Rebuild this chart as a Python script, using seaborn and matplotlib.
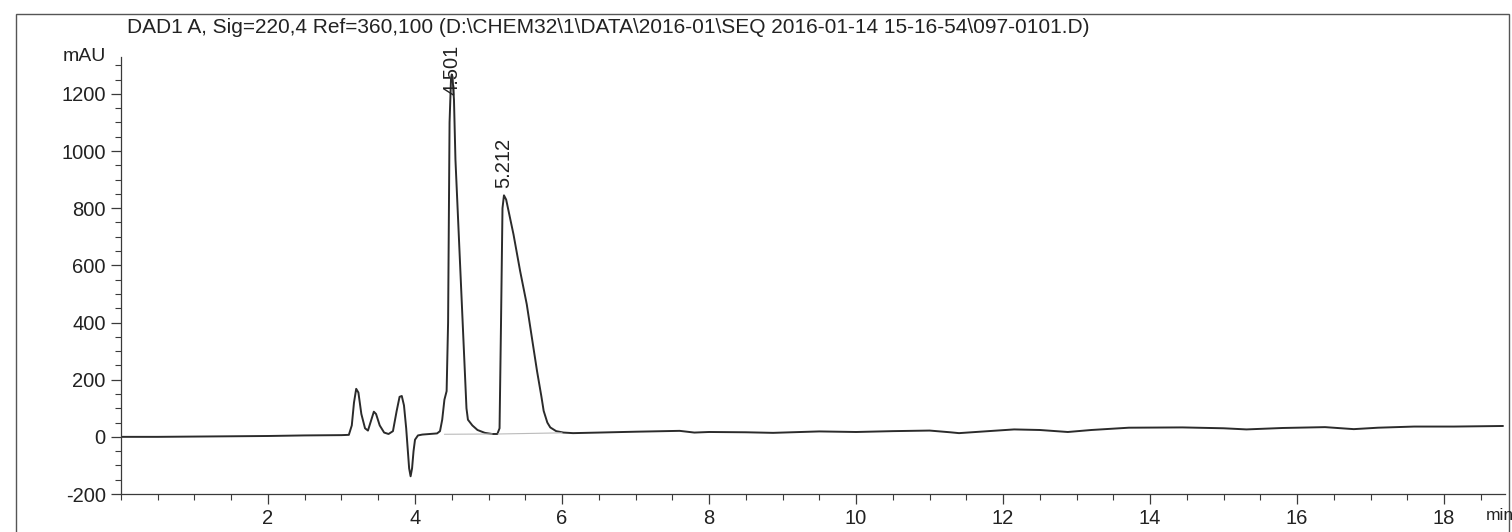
"""Chromatogram (DAD1 A, 220 nm) redrawn from a ChemStation printout."""
import matplotlib
matplotlib.use("Agg")
import matplotlib.pyplot as plt
import matplotlib.patches as mpatches
from matplotlib.ticker import MultipleLocator
import pandas as pd
import seaborn as sns

# --- values -------------------------------------------------------------
time_min = [
    0.00, 0.50, 1.00, 1.50, 2.00, 2.50, 3.00, 3.10,
    3.14, 3.17, 3.20, 3.23, 3.27, 3.32, 3.36, 3.40, 3.44, 3.47, 3.52, 3.58,
    3.64, 3.70, 3.75, 3.79, 3.82, 3.85, 3.88, 3.90, 3.92, 3.94, 3.96, 3.98,
    4.00, 4.04, 4.10, 4.20, 4.30, 4.34, 4.37, 4.40, 4.43, 4.45, 4.47, 4.49,
    4.50, 4.51, 4.53, 4.55, 4.60, 4.65, 4.70, 4.72, 4.78, 4.85, 4.95, 5.05,
    5.12, 5.15, 5.17, 5.19, 5.21, 5.24, 5.34, 5.43, 5.52, 5.60, 5.66, 5.72,
    5.75, 5.80, 5.84, 5.92, 6.02, 6.15, 6.50, 7.00, 7.60, 7.80, 8.00, 8.50,
    8.87, 9.50, 10.00, 10.50, 11.00, 11.28, 11.40, 11.80, 12.15, 12.50,
    12.88, 13.20, 13.71, 14.44, 15.00, 15.31, 15.80, 16.38, 16.77, 17.10,
    17.59, 18.13, 18.80,
]
signal_mau = [
    0, 0, 1, 2, 3, 5, 6, 7,
    40, 120, 168, 155, 80, 30, 22, 55, 88, 80, 40, 15,
    10, 20, 90, 140, 143, 110, 30, -40, -110, -138, -110, -50,
    -10, 5, 8, 10, 12, 20, 60, 130, 160, 400, 1100, 1255,
    1268, 1260, 1180, 970, 680, 390, 100, 60, 40, 24, 14, 10,
    10, 30, 400, 800, 845, 830, 708, 580, 464, 330, 230, 140,
    91, 50, 33, 20, 15, 13, 15, 18, 21, 15, 17, 16,
    14, 19, 17, 20, 22, 16, 13, 20, 26, 24,
    17, 24, 32, 33, 30, 26, 31, 34, 27, 32,
    36, 36, 38,
]

peak_times = [4.501, 5.212]
peak_labels = ["4.501", "5.212"]
label_base = [1195, 870]

y_ticks = [-200, 0, 200, 400, 600, 800, 1000, 1200]
x_ticks = [2, 4, 6, 8, 10, 12, 14, 16, 18]

title = ("DAD1 A, Sig=220,4 Ref=360,100 "
         "(D:\\CHEM32\\1\\DATA\\2016-01\\SEQ 2016-01-14 15-16-54\\097-0101.D)")

# --- style ----------------------------------------------------------------
sns.set_style("ticks")
plt.rcParams["font.family"] = ["Liberation Sans", "DejaVu Sans"]
plt.rcParams["axes.unicode_minus"] = False
ink = "#3a3a3a"
txt = "#222222"

trace = pd.DataFrame({"time": time_min, "mAU": signal_mau})

fig = plt.figure(figsize=(15.12, 5.32), dpi=100)
ax = fig.add_axes([0.080, 0.0714, 0.9155, 0.822])

sns.lineplot(data=trace, x="time", y="mAU", ax=ax, color="#2b2b2b",
             lw=1.4, estimator=None, sort=False)

# integration baselines
ax.plot([4.40, 5.05], [9, 10], color="#bbbbbb", lw=0.8)
ax.plot([5.13, 6.00], [10, 14], color="#bbbbbb", lw=0.8)

for t, lab, yb in zip(peak_times, peak_labels, label_base):
    ax.text(t, yb, lab, rotation=90, ha="center", va="bottom",
            fontsize=14.5, color=txt)

ax.set_xlim(0, 18.83)
ax.set_ylim(-200, 1330)
ax.set_xticks(x_ticks)
ax.set_yticks(y_ticks)
ax.xaxis.set_minor_locator(MultipleLocator(0.5))
ax.yaxis.set_minor_locator(MultipleLocator(50))
ax.tick_params(which="major", direction="out", length=7, width=0.9,
               colors=ink, labelsize=14.5, pad=4)
ax.tick_params(which="minor", direction="out", length=4, width=0.8,
               colors=ink)
ax.tick_params(axis="both", labelcolor=txt)
ax.set_xlabel("")
ax.set_ylabel("")
sns.despine(ax=ax)
for side in ("left", "bottom"):
    ax.spines[side].set_color(ink)
    ax.spines[side].set_linewidth(0.9)

ax.text(-0.011, 1.0, "mAU", transform=ax.transAxes, ha="right",
        va="center", fontsize=14, color=txt)
fig.text(1486 / 1512, 1 - 515 / 532, "min", ha="left", va="center",
         fontsize=12.5, color=txt)

fig.text(127 / 1512, 1 - 28 / 532, title, ha="left", va="center",
         fontsize=15, color=txt)

# printout frame
frame = mpatches.Rectangle((16 / 1512, -0.05), 1493 / 1512, 1.05 - 14 / 532,
                           transform=fig.transFigure, fill=False,
                           edgecolor="#555555", lw=1.0, clip_on=False)
fig.patches.append(frame)

fig.savefig("out.png", dpi=100)
